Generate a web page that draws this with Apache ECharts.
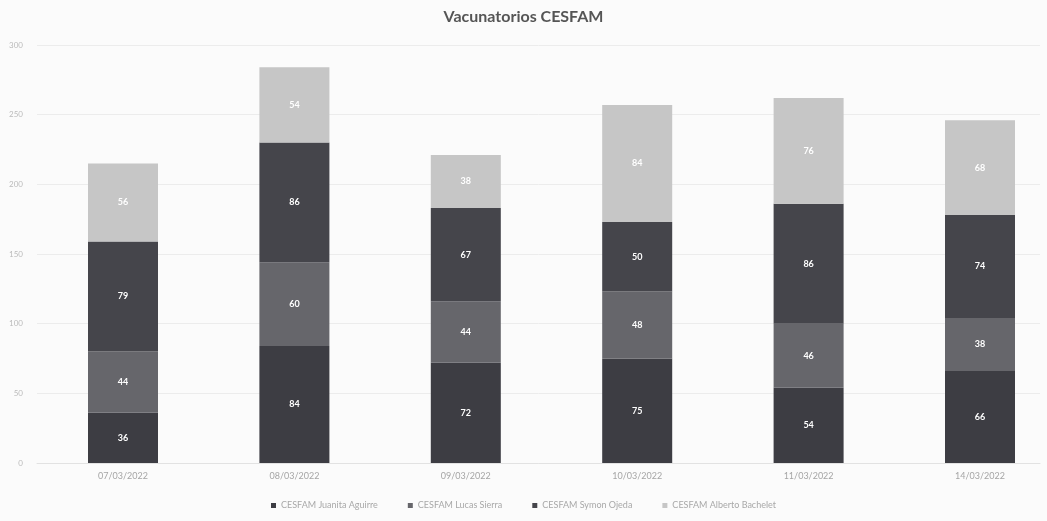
<!DOCTYPE html>
<html>
<head>
<meta charset="utf-8">
<script src="https://cdn.jsdelivr.net/npm/echarts@6/dist/echarts.min.js"></script>
<style>html,body{margin:0;padding:0;background:#fbfbfb;}#c{width:1047px;height:521px;}</style>
</head>
<body>
<div id="c"></div>
<script>
const categories = ['07/03/2022','08/03/2022','09/03/2022','10/03/2022','11/03/2022','14/03/2022'];
const seriesNames = ['CESFAM Juanita Aguirre','CESFAM Lucas Sierra','CESFAM Symon Ojeda','CESFAM Alberto Bachelet'];
const juanita = [36, 84, 72, 75, 54, 66];
const lucas   = [44, 60, 44, 48, 46, 38];
const symon   = [79, 86, 67, 50, 86, 74];
const alberto = [56, 54, 38, 84, 76, 68];
const yTicks = [0, 50, 100, 150, 200, 250, 300];

const values = [juanita, lucas, symon, alberto];
const colors = ['#3d3d43', '#66666b', '#45454b', '#c6c6c6'];
const font = 'Lato, "Open Sans", sans-serif';
const yMin = yTicks[0], yMax = yTicks[yTicks.length-1];

const chart = echarts.init(document.getElementById('c'));
chart.setOption({
  backgroundColor: '#fbfbfb',
  animation: false,
  title: {
    text: 'Vacunatorios CESFAM',
    left: 'center', top: 4,
    textStyle: {fontFamily: font, fontSize: 16, fontWeight: 'bold', color: '#555'}
  },
  legend: {
    bottom: 6, left: 'center',
    itemWidth: 5, itemHeight: 5, itemGap: 30,
    icon: 'rect',
    textStyle: {fontFamily: font, fontSize: 9, color: '#a8a8a8'},
    data: seriesNames
  },
  grid: [
    {left: 37, right: 7, top: 45, bottom: 58},
    {left: 123, width: 857, top: 45, bottom: 58}
  ],
  xAxis: [
    {gridIndex: 0, type: 'value', min: 0, max: 1, show: true,
     axisLabel: {show: false}, axisTick: {show: false}, splitLine: {show: false},
     axisLine: {show: true, lineStyle: {color: '#e2e2e2'}}},
    {gridIndex: 1, type: 'category', data: categories, boundaryGap: false,
     axisLine: {show: false}, axisTick: {show: false},
     axisLabel: {fontFamily: font, fontSize: 9, color: '#a5a5a5', margin: 9}}
  ],
  yAxis: [
    {gridIndex: 0, type: 'value', min: yMin, max: yMax, interval: 50,
     axisLine: {show: false}, axisTick: {show: false},
     axisLabel: {fontFamily: font, fontSize: 8, color: '#bbb', margin: 14},
     splitLine: {lineStyle: {color: '#ececec'}}},
    {gridIndex: 1, type: 'value', min: yMin, max: yMax, interval: 50, show: false,
     splitLine: {show: false}}
  ],
  series: seriesNames.map((n, i) => ({
    name: n, type: 'bar', stack: 'total',
    xAxisIndex: 1, yAxisIndex: 1,
    barWidth: 70, clip: false,
    data: values[i],
    itemStyle: {color: colors[i]},
    label: {show: true, position: 'inside', color: '#fff', fontFamily: font, fontSize: 9, fontWeight: 'bold'}
  }))
});
</script>
</body>
</html>
